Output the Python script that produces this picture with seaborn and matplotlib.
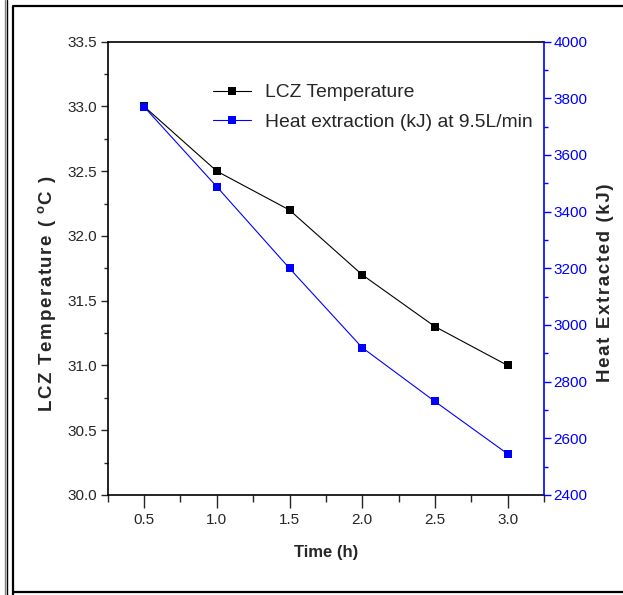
import matplotlib
matplotlib.use("Agg")
import matplotlib.pyplot as plt
from matplotlib import font_manager
from matplotlib.lines import Line2D
from matplotlib.ticker import MultipleLocator
import seaborn as sns
import pandas as pd

# data
time_h = [0.5, 1.0, 1.5, 2.0, 2.5, 3.0]
lcz_temp = [33.0, 32.5, 32.2, 31.7, 31.3, 31.0]
heat_kj = [3770, 3488, 3200, 2920, 2730, 2545]

df = pd.DataFrame({"Time": time_h, "LCZ": lcz_temp, "Heat": heat_kj})

sns.set_style("ticks")
names = {f.name for f in font_manager.fontManager.ttflist}
narrow = "Liberation Sans Narrow" if "Liberation Sans Narrow" in names else "Liberation Sans"
plt.rcParams["font.family"] = ["Liberation Sans", "DejaVu Sans"]


def spaced(s):
    # loose letter spacing like the source, using hair spaces
    return "\u200a".join(s)


fig = plt.figure(figsize=(6.23, 5.95), dpi=100)
ax = fig.add_axes([0.1729, 0.1681, 0.7003, 0.7619])
ax2 = ax.twinx()

sns.lineplot(data=df, x="Time", y="LCZ", ax=ax, color="black", marker="s",
             markersize=6, markeredgewidth=0, linewidth=0.8, legend=False)
sns.lineplot(data=df, x="Time", y="Heat", ax=ax2, color="blue", marker="s",
             markersize=6, markeredgewidth=0, linewidth=0.8, legend=False)

ax.set_xlim(0.25, 3.25)
ax.set_ylim(30.0, 33.5)
ax2.set_ylim(2400, 4000)

ax.xaxis.set_minor_locator(MultipleLocator(0.25))
ax.yaxis.set_major_locator(MultipleLocator(0.5))
ax.yaxis.set_minor_locator(MultipleLocator(0.25))
ax2.yaxis.set_major_locator(MultipleLocator(200))
ax2.yaxis.set_minor_locator(MultipleLocator(100))

ax.set_xticks(time_h)
ax.set_xticklabels([f"{v:.1f}" for v in time_h])
ax.set_yticks([30.0 + 0.5 * i for i in range(8)])
ax.set_yticklabels([f"{30.0 + 0.5 * i:.1f}" for i in range(8)])

ax.tick_params(axis="x", which="major", length=9, width=1, direction="out", pad=4)
ax.tick_params(axis="x", which="minor", length=5, width=1, direction="out")
ax.tick_params(axis="y", which="major", length=5, width=1, direction="out", pad=3)
ax.tick_params(axis="y", which="minor", length=3, width=1, direction="out")
ax2.tick_params(axis="y", which="major", length=5, width=1, direction="out", pad=2,
                colors="blue", labelcolor="blue")
ax2.tick_params(axis="y", which="minor", length=3, width=1, direction="out", colors="blue")

for lab in ax.get_xticklabels() + ax.get_yticklabels() + ax2.get_yticklabels():
    lab.set_fontfamily(narrow)
    lab.set_fontsize(11)

for side in ["top", "left", "bottom"]:
    ax.spines[side].set_linewidth(1.2)
    ax.spines[side].set_color("black")
ax.spines["right"].set_visible(False)
ax2.spines["right"].set_color("blue")
ax2.spines["right"].set_linewidth(1.2)
for side in ["top", "left", "bottom"]:
    ax2.spines[side].set_visible(False)

ax.set_xlabel("Time (h)", fontsize=12, fontweight="bold", family=narrow, labelpad=13)
ax.set_ylabel(spaced("LCZ Temperature ( ") + "$^{\\mathregular{o}}$" + spaced("C )"),
              fontsize=13.5, fontweight="bold")
ax.yaxis.set_label_coords(-0.112, 0.443)
ax2.set_ylabel(spaced("Heat Extracted (kJ)"), fontsize=13.5, fontweight="bold")
ax2.yaxis.set_label_coords(1.121, 0.468)

handles = [
    Line2D([], [], color="black", marker="s", markersize=5.5, markeredgewidth=0, linewidth=0.8),
    Line2D([], [], color="blue", marker="s", markersize=5.5, markeredgewidth=0, linewidth=0.8),
]
ax.legend(handles, ["LCZ Temperature", "Heat extraction (kJ) at 9.5L/min"],
          loc="upper left", bbox_to_anchor=(0.224, 0.924), frameon=False,
          fontsize=13.9, handlelength=1.95, handletextpad=0.75, labelspacing=0.62,
          borderaxespad=0)

# outer frame lines like the source figure
W, H = 623, 595
fig.add_artist(Line2D([4.5 / W, 4.5 / W], [0, 1], color="0.5", linewidth=1, transform=fig.transFigure))
fig.add_artist(Line2D([6.5 / W, 6.5 / W], [0, 1], color="black", linewidth=1, transform=fig.transFigure))
fig.add_artist(Line2D([13 / W, 13 / W, 1.0], [0, 1 - 5.5 / H, 1 - 5.5 / H], color="black",
                      linewidth=1.6, transform=fig.transFigure))
fig.add_artist(Line2D([13 / W, 1.0], [1 - 592 / H, 1 - 592 / H], color="black",
                      linewidth=1.6, transform=fig.transFigure))

fig.savefig("out.png", dpi=100)
